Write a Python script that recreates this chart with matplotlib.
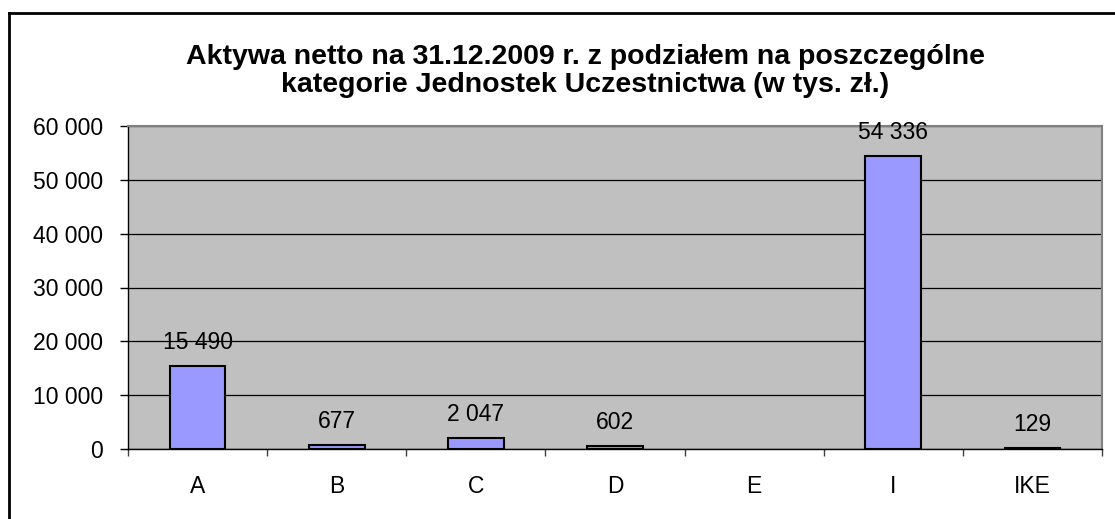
import matplotlib
matplotlib.use("Agg")
import matplotlib.pyplot as plt
from matplotlib.lines import Line2D
from matplotlib.ticker import FuncFormatter, FixedLocator
import numpy as np

categories = ["A", "B", "C", "D", "E", "I", "IKE"]
values = [15490, 677, 2047, 602, np.nan, 54336, 129]
value_labels = ["15 490", "677", "2 047", "602", "", "54 336", "129"]
title = "Aktywa netto na 31.12.2009 r. z podziałem na poszczególne\nkategorie Jednostek Uczestnictwa (w tys. zł.)"

plt.rcParams['font.family'] = ['Liberation Sans', 'DejaVu Sans']

W, H = 1115, 519
fig = plt.figure(figsize=(W / 100, H / 100), dpi=100)
fig.patch.set_facecolor("white")

# outer frame (left and top)
fig.add_artist(Line2D([8.5 / W, 8.5 / W], [0, 1 - 12.5 / H], transform=fig.transFigure,
                      color="black", lw=2))
fig.add_artist(Line2D([8.5 / W, 1], [1 - 12.5 / H, 1 - 12.5 / H], transform=fig.transFigure,
                      color="black", lw=2))

left, right, top, bottom = 128, 1102, 126, 449
ax = fig.add_axes([left / W, (H - bottom) / H, (right - left) / W, (bottom - top) / H])
ax.set_facecolor("#C0C0C0")

x = np.arange(len(categories))
ax.bar(x, values, width=0.4, color="#9999FF", edgecolor="black", linewidth=1.5, zorder=3)

for xi, v, lab in zip(x, values, value_labels):
    if not np.isnan(v) and lab:
        ax.annotate(lab, (xi, v), xytext=(0, 17), textcoords="offset points",
                    ha="center", va="center", fontsize=16.5, color="black", zorder=4)

ax.set_xlim(-0.5, len(categories) - 0.5)
ax.set_ylim(0, 60000)
ax.set_yticks(np.arange(0, 60001, 10000))
ax.yaxis.set_major_formatter(FuncFormatter(lambda v, p: f"{int(v):,}".replace(",", " ")))
ax.grid(axis="y", color="black", linewidth=0.9, zorder=1)
ax.set_axisbelow(True)

ax.set_xticks(x)
ax.set_xticklabels(categories)
ax.xaxis.set_minor_locator(FixedLocator(np.arange(-0.5, len(categories), 1.0)))
ax.tick_params(axis="x", which="major", length=0, pad=19, labelsize=16.5)
ax.tick_params(axis="x", which="minor", length=5, width=1, direction="out", color="#404040")
ax.tick_params(axis="y", which="major", length=6, width=1, direction="out", pad=12, labelsize=16.5)

for s in ["top", "right"]:
    ax.spines[s].set_color("#808080")
    ax.spines[s].set_linewidth(1.5)
for s in ["left", "bottom"]:
    ax.spines[s].set_color("black")
    ax.spines[s].set_linewidth(1)

fig.text(585 / W, 1 - 71 / H, title, ha="center", va="center",
         fontsize=20.5, fontweight="bold", linespacing=1.12)

fig.savefig("out.png", dpi=100, facecolor="white")
